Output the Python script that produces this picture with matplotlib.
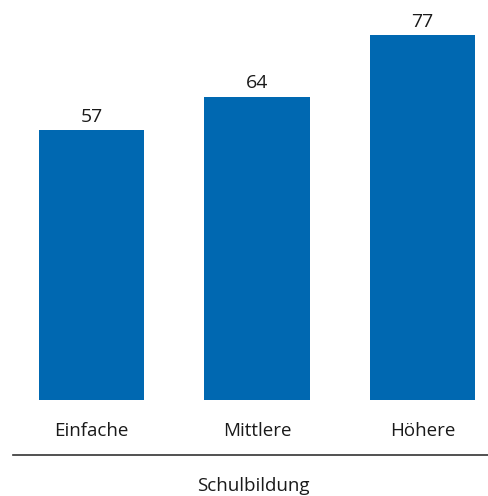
import matplotlib.pyplot as plt
from matplotlib.lines import Line2D

categories = ['Einfache', 'Mittlere', 'Höhere']
values = [57, 64, 77]
xlabel = 'Schulbildung'

plt.rcParams['font.family'] = ['Open Sans', 'DejaVu Sans']

W, H = 489, 496
fig = plt.figure(figsize=(W / 100, H / 100), dpi=100)
# axes spans from the bar baseline (y=400 px) to the top
ax = fig.add_axes([0, (H - 400) / H, 1, 400 / H])

pos = list(range(len(categories)))
bars = ax.bar(pos, values, width=0.635, color='#0068b1')
ax.set_xlim(-91.5 / 165.5, (W - 91.5) / 165.5)
ax.set_ylim(0, 400 / 4.74)

for b, v in zip(bars, values):
    ax.annotate(str(v), (b.get_x() + b.get_width() / 2, v),
                xytext=(0, 3), textcoords='offset points',
                ha='center', va='bottom', fontsize=14, color='#1a1a1a')

ax.set_xticks(pos)
ax.set_xticklabels(categories, fontsize=13.5, color='#1a1a1a')
ax.tick_params(axis='x', length=0, pad=16)
ax.set_yticks([])
for s in ax.spines.values():
    s.set_visible(False)

# separator line and axis title
fig.add_artist(Line2D([13 / W, 1], [1 - 455 / H, 1 - 455 / H],
                      color='#333333', lw=1.2))
fig.text(253 / W, 1 - 486 / H, xlabel, ha='center', va='center',
         fontsize=13.5, color='#1a1a1a')

fig.savefig('out.png', dpi=100)
